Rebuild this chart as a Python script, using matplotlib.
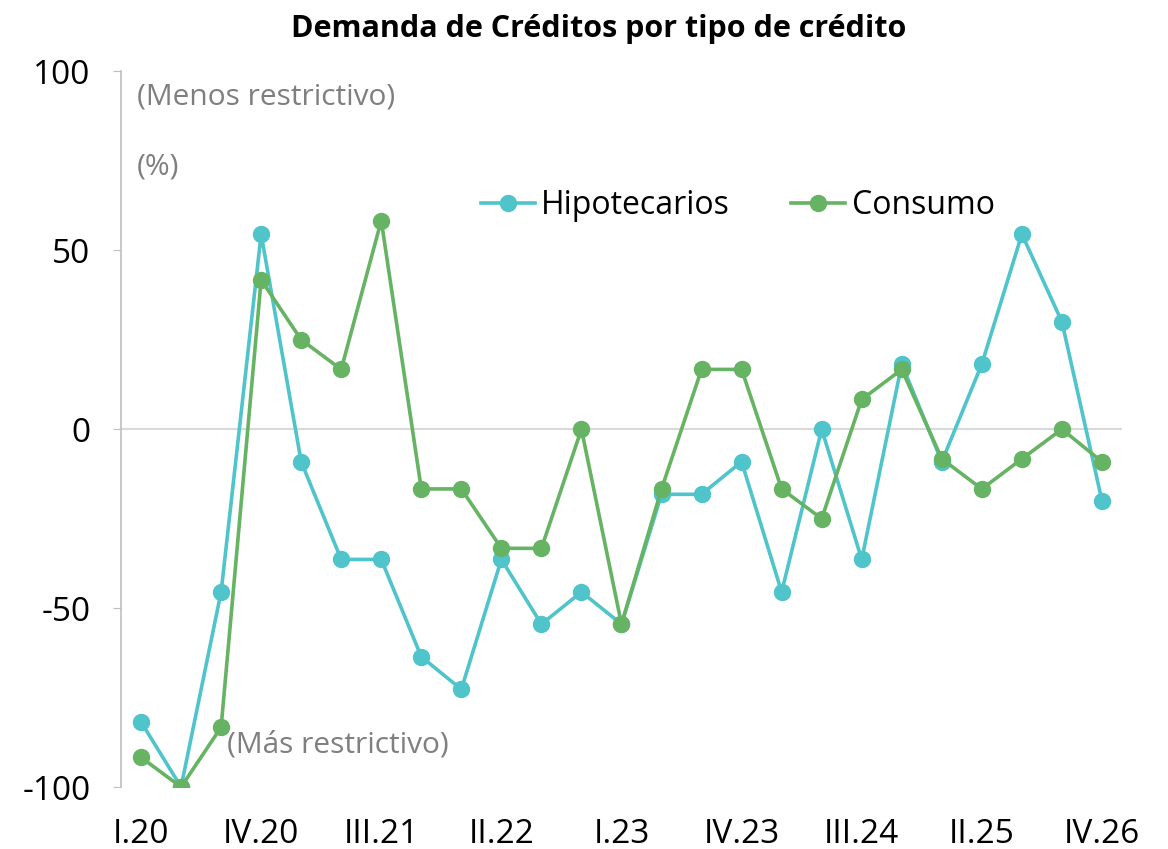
import matplotlib.pyplot as plt
import numpy as np

plt.rcParams['font.family'] = ['Open Sans', 'DejaVu Sans']

# Data
hipotecarios = [-81.8, -100, -45.5, 54.5, -9.1, -36.4, -36.4, -63.6, -72.7, -36.4,
                -54.5, -45.5, -54.5, -18.2, -18.2, -9.1, -45.5, 0, -36.4, 18.2,
                -9.1, 18.2, 54.5, 30, -20]
consumo = [-91.7, -100, -83.3, 41.7, 25, 16.7, 58.3, -16.7, -16.7, -33.3,
           -33.3, 0, -54.5, -16.7, 16.7, 16.7, -16.7, -25, 8.3, 16.7,
           -8.3, -16.7, -8.3, 0, -9.1]
tick_pos = [0, 3, 6, 9, 12, 15, 18, 21, 24]
tick_labels = ["I.20", "IV.20", "III.21", "II.22", "I.23", "IV.23", "III.24", "II.25", "IV.26"]

cyan = "#4FC4CB"
green = "#66B363"
gray = "#7F7F7F"

fig = plt.figure(figsize=(11.68, 8.49), dpi=100)
ax = fig.add_axes([0.1036, 0.073, 0.857, 0.843])

x = np.arange(len(hipotecarios))
ax.axhline(0, color="#D9D9D9", lw=1.5, zorder=1)
ax.plot(x, hipotecarios, color=cyan, lw=2.6, marker="o", ms=11.5, label="Hipotecarios", zorder=3)
ax.plot(x, consumo, color=green, lw=2.6, marker="o", ms=11.5, label="Consumo", zorder=4)

ax.set_xlim(-0.5, 24.5)
ax.set_ylim(-100, 100)
ax.set_yticks([-100, -50, 0, 50, 100])
ax.set_yticklabels(["-100", "-50", "0", "50", "100"])
ax.set_xticks(tick_pos)
ax.set_xticklabels(tick_labels)
ax.tick_params(axis="y", labelsize=24, length=6, color="#BFBFBF", pad=16)
ax.tick_params(axis="x", labelsize=24, length=0, pad=22)

for s in ["top", "right", "bottom"]:
    ax.spines[s].set_visible(False)
ax.spines["left"].set_color("#BFBFBF")
ax.spines["left"].set_linewidth(1.2)

# side notes in gray
ax.text(0.016, 0.964, "(Menos restrictivo)", transform=ax.transAxes, fontsize=21.5,
        color=gray, va="center", ha="left")
ax.text(0.016, 0.866, "(%)", transform=ax.transAxes, fontsize=21.5,
        color=gray, va="center", ha="left")
ax.text(0.106, 0.059, "(Más restrictivo)", transform=ax.transAxes, fontsize=21.5,
        color=gray, va="center", ha="left")

ax.legend(loc="center", bbox_to_anchor=(0.616, 0.812), ncol=2, frameon=False,
          fontsize=23, handlelength=1.7, handletextpad=0.2, columnspacing=1.9)

fig.suptitle("Demanda de Créditos por tipo de crédito", fontsize=22, fontweight="bold",
             x=0.513, y=0.984)

fig.savefig("out.png", dpi=100)
